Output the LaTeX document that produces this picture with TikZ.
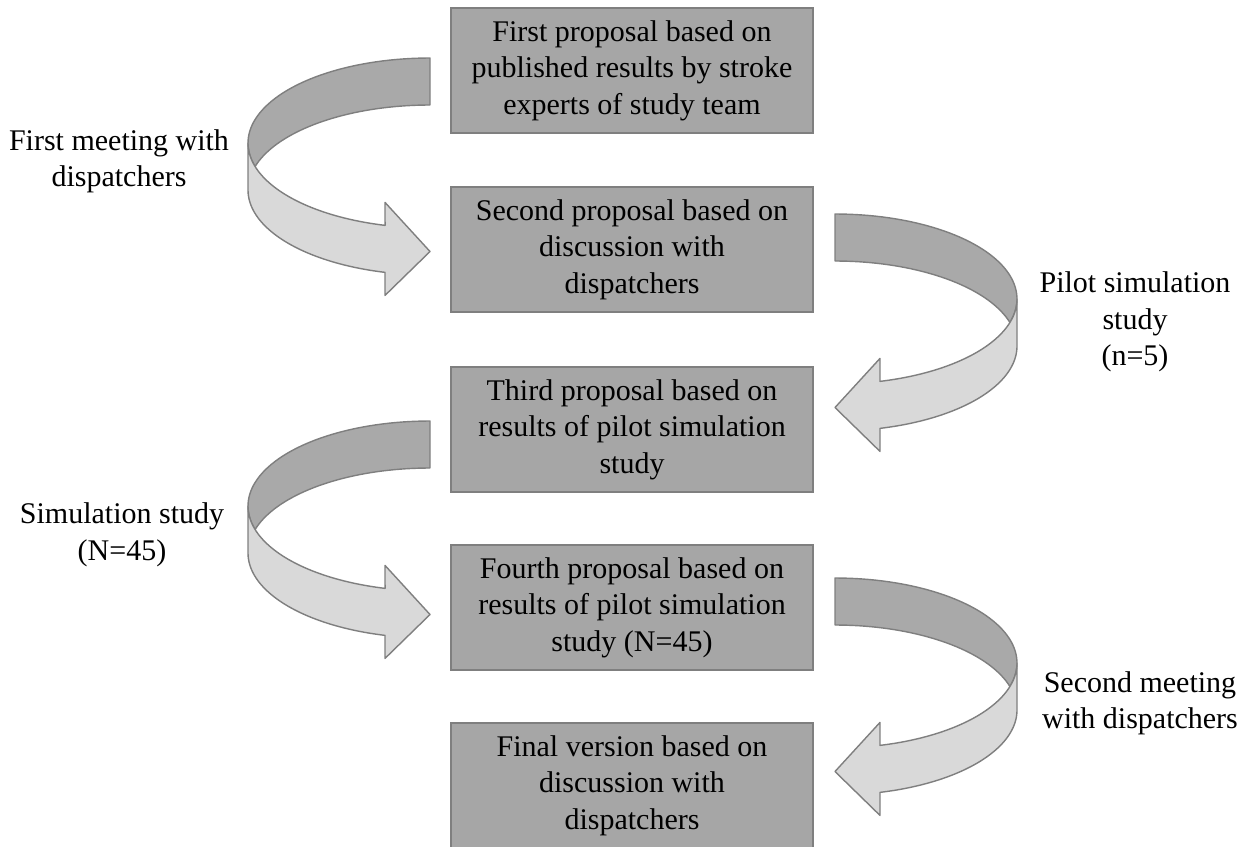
\documentclass[tikz,border=0pt]{standalone}
\usepackage{fontspec}
\setmainfont{Liberation Serif}
\definecolor{boxfill}{HTML}{A6A6A6}
\definecolor{boxline}{HTML}{7F7F7F}
\definecolor{ribdark}{HTML}{A9A9A9}
\definecolor{riblight}{HTML}{D9D9D9}
\definecolor{ribline}{HTML}{7F7F7F}
\newcommand\ribbonarrow[3]{%
\begin{scope}[shift={(#1,-#2)},xscale=#3]
\filldraw[ribdark part]
 (0,0) -- plot[domain=90:196,samples=50,variable=\t] ({182*cos(\t)},{-85+85*sin(\t)})
 -- plot[domain=0:74,samples=40,variable=\t] ({182*cos(164-\t)},{-132+85*sin(164-\t)}) -- cycle;
\filldraw[riblight part]
 (-182,-85) -- plot[domain=180:255.7,samples=50,variable=\t] ({182*cos(\t)},{-85+85*sin(\t)})
 -- (-45,-144.4) -- (0,-193.5) -- (-45,-237.4) -- (-45,-214.4)
 -- plot[domain=0:75.7,samples=50,variable=\t] ({182*cos(255.7-\t)},{-132+85*sin(255.7-\t)}) -- cycle;
\end{scope}}
\tikzset{
  txt/.style={font=\fontsize{17.07pt}{20.8pt}\selectfont, align=center},
  stage/.style={txt, draw=boxline, fill=boxfill, line width=1.1pt, minimum width=7.24cm, minimum height=2.5cm, inner sep=0pt},
  lbl/.style={txt, inner sep=0pt},
  ribdark part/.style={fill=ribdark, draw=ribline, line width=0.8pt, line join=round},
  riblight part/.style={fill=riblight, draw=ribline, line width=0.8pt, line join=round}
}
\begin{document}
\begin{tikzpicture}[x=0.02cm,y=0.02cm]
\useasboundingbox (0,0) rectangle (1244,-846);
\node[stage] (b1) at (632,-70.5) {First proposal based on\\published results by stroke\\experts of study team};
\node[stage] (b2) at (632,-249.5) {Second proposal based on\\discussion with\\dispatchers};
\node[stage] (b3) at (632,-429.5) {Third proposal based on\\results of pilot simulation\\study};
\node[stage] (b4) at (632,-607.5) {Fourth proposal based on\\results of pilot simulation\\study (N=45)};
\node[stage] (b5) at (632,-785.5) {Final version based on\\discussion with\\dispatchers};
\ribbonarrow{430}{58}{1}
\ribbonarrow{835}{214}{-1}
\ribbonarrow{430}{421}{1}
\ribbonarrow{835}{578}{-1}
\node[lbl] (l1) at (119,-161.5) {First meeting with\\dispatchers};
\node[lbl] (l2) at (1135,-322) {Pilot simulation\\study\\(n=5)};
\node[lbl] (l3) at (122,-535) {Simulation study\\(N=45)};
\node[lbl] (l4) at (1140,-703.5) {Second meeting\\with dispatchers};
\end{tikzpicture}
\end{document}
